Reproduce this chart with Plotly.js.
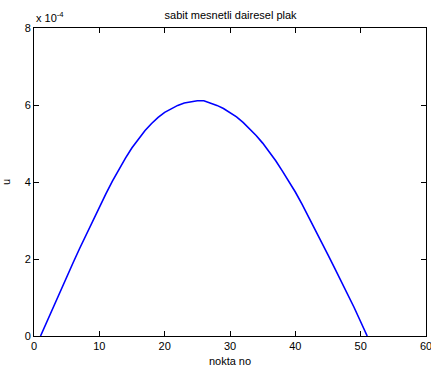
<!DOCTYPE html>
<html>
<head>
<meta charset="utf-8">
<script src="https://cdn.plot.ly/plotly-3.0.1.min.js"></script>
<style>
  html, body { margin: 0; padding: 0; background: #fff; }
  #chart { width: 431px; height: 370px; }
</style>
</head>
<body>
<div id="chart"></div>
<script>
// Node numbers along the plate diameter
const nodes = [];
for (let i = 1; i <= 51; i++) nodes.push(i);

// Deflection u at each node, in units of 1e-4
const uScaled = [
  0.00, 0.39, 0.78, 1.16, 1.54, 1.91, 2.28, 2.64, 3.00, 3.35,
  3.69, 4.02, 4.33, 4.62, 4.89, 5.13, 5.34, 5.52, 5.68, 5.81,
  5.91, 5.99, 6.05, 6.09, 6.11, 6.11, 6.06, 5.99, 5.91, 5.81,
  5.69, 5.55, 5.39, 5.21, 5.01, 4.79, 4.55, 4.29, 4.02, 3.74,
  3.43, 3.11, 2.78, 2.44, 2.11, 1.77, 1.43, 1.10, 0.74, 0.37,
  0.00
];

const xTicks = [0, 10, 20, 30, 40, 50, 60];
const yTicks = [0, 2, 4, 6, 8];

const font = { family: 'Liberation Sans, Arial, sans-serif', size: 11, color: '#000' };

const trace = {
  x: nodes,
  y: uScaled,
  type: 'scatter',
  mode: 'lines',
  line: { color: '#0000ff', width: 1.6 },
  hoverinfo: 'skip'
};

const axisCommon = {
  showgrid: false,
  zeroline: false,
  showline: true,
  linecolor: '#000',
  linewidth: 1,
  mirror: 'ticks',
  ticks: 'inside',
  ticklen: 5,
  tickcolor: '#000',
  tickfont: font,
  ticklabeloverflow: 'allow'
};

const layout = {
  width: 431,
  height: 370,
  margin: { l: 34, r: 5, t: 28, b: 34 },
  paper_bgcolor: '#fff',
  plot_bgcolor: '#fff',
  font: font,
  showlegend: false,
  title: {
    text: 'sabit mesnetli dairesel plak',
    font: font,
    x: 0.535,
    xanchor: 'center',
    y: 0.96,
    yanchor: 'middle'
  },
  xaxis: Object.assign({}, axisCommon, {
    range: [0, 60],
    tickvals: xTicks,
    ticktext: xTicks.map(String),
    title: { text: 'nokta no', font: font, standoff: 6 }
  }),
  yaxis: Object.assign({}, axisCommon, {
    range: [0, 8],
    tickvals: yTicks,
    ticktext: yTicks.map(String),
    title: { text: 'u', font: font, standoff: 12 }
  }),
  annotations: [{
    text: 'x 10<sup>-4</sup>',
    xref: 'paper', yref: 'paper',
    x: 0, y: 1,
    xanchor: 'left', yanchor: 'bottom',
    yshift: 2,
    showarrow: false,
    font: font
  }]
};

Plotly.newPlot('chart', [trace], layout, { displayModeBar: false, staticPlot: true });
</script>
</body>
</html>
